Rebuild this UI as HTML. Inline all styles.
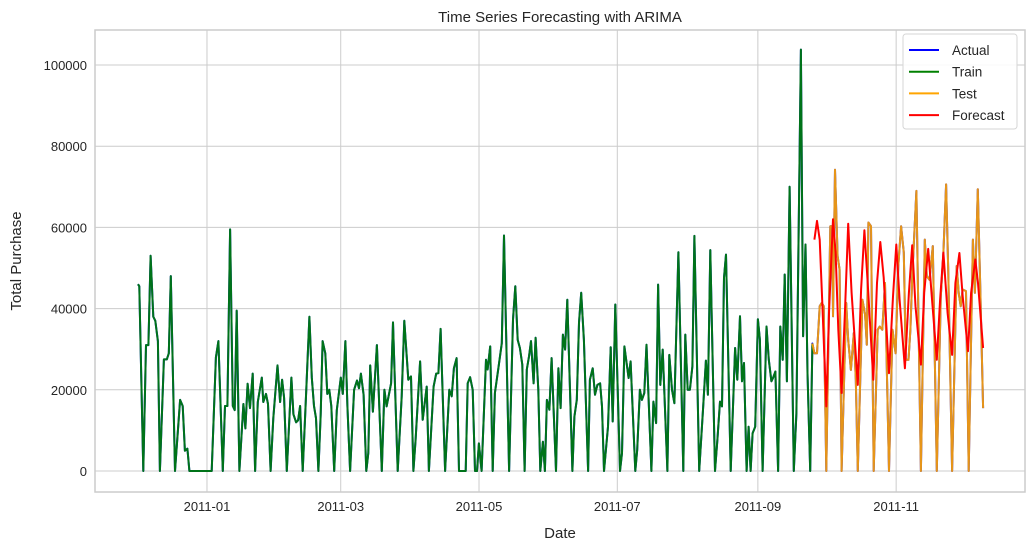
<!DOCTYPE html>
<html><head><meta charset="utf-8"><style>
body{margin:0;background:#fff;}
svg text{font-family:"Liberation Sans",sans-serif;fill:#262626;}
</style></head><body>
<svg id="chart" width="1034" height="550" xmlns="http://www.w3.org/2000/svg">
<rect width="1034" height="550" fill="#fff"/>
<g id="grid"></g><g id="axes"></g><g id="series"></g><g id="legend"></g>
</svg>
<script>
// Approximate day offsets (read on a preliminary scale) and values in thousands
const trainDaysRaw=[0,0.6,2.4,3.6,4.7,5.7,6.9,7.8,9.0,9.9,11.7,13.0,13.9,14.8,16.7,19.0,20.2,21.2,22.3,23.2,33.3,35.2,36.3,38.3,39.3,40.4,41.6,42.8,43.7,44.6,45.8,47.6,48.5,49.5,50.6,51.8,52.9,54.1,55.9,56.6,57.8,58.7,59.9,61.1,63.0,64.2,65.1,66.0,67.2,68.1,69.3,70.2,71.4,72.3,73.2,74.4,75.6,77.4,78.5,79.5,80.4,81.5,82.5,83.4,84.6,85.5,86.4,87.3,88.6,89.8,91.6,92.5,93.7,94.6,95.8,97.6,
98.9,99.8,100.7,101.9,103.1,104.0,104.9,106.1,107.9,110.1,111.3,112.3,114.3,115.2,117.3,119.1,120.3,122.1,123.3,124.4,125.4,127.4,128.6,130.4,131.4,133.5,134.7,135.7,136.7,138.7,140.6,141.7,142.7,143.9,145.0,148.0,148.9,150.0,151.2,152.2,153.1,154.0,155.2,157.2,157.9,159.1,160.2,161.2,162.7,164.3,165.3,167.6,169.4,170.4,171.5,172.5,173.6,174.6,175.6,176.6,177.5,178.7,179.6,180.8,181.7,182.9,183.8,184.7,185.8,186.8,188.8,189.9,190.9,191.9,192.9,193.9,196.2,197.1,198.2,199.2,
200.2,201.4,203.3,204.1,205.4,206.4,207.5,208.7,209.6,210.5,212.3,213.5,214.4,215.6,217.7,218.6,219.7,220.7,221.6,222.5,224.6,225.5,226.7,227.6,228.7,229.7,231.9,232.8,234.0,234.9,235.9,237.0,239.1,240.0,241.2,242.3,244.1,246.3,247.2,248.3,249.3,250.4,251.3,253.5,255.3,256.5,257.4,258.5,260.6,261.7,262.9,263.8,264.7,265.6,267.7,269.7,270.7,271.9,272.8,273.7,274.9,275.8,276.7,277.6,278.8,280.0,280.9,282.1,283.9,284.9,286.1,286.8,287.9,289.1,290.1,291.2,292.1,293.1,294.3,296.2,297.4,299.4,300.4,301.5,302.4,303.6,304.6];
const trainVals=[46,45.5,0,31,31,53,38,37,32,0,27.5,27.5,29,48,0,17.5,16,5,5.5,0,0,28,32,0,16,16,59.5,16,15,39.5,0,16.5,10.5,21.5,15.5,24,0,17,23,17,19,16.5,0,13,26,17,22.5,18,0,10,23,14,12,12.5,16,0,15,38,23,16,13,0,14,32,29,19,20,16,0,15,23,19,32,16,0,20,
22.3,20.4,24,18.8,0,4.4,26,14.6,31,0,20,15.9,21.6,36.6,0,18.4,37,22.5,23.3,0,7.7,27,12.6,20.8,0,20.8,24,24.1,35,0,20,18.4,25.3,27.8,0,0,21.6,23.1,20,0,0,6.8,0,27.4,25,30.7,0,19.2,25,31.5,58,0,37.3,45.5,32.3,30.3,26.2,0,25,28.2,32,21.6,32.8,20,0,7.2,0,17.5,15.1,27.8,0,25.3,15.5,33.6,29.9,42.2,0,13.4,17.5,36.5,
43.9,32.3,0,22.5,25.3,18.8,21.2,21.6,15.9,0,10.9,30.5,12.2,41,0,4.4,30.7,26.6,22.9,27,0,5.2,20,17.5,19.2,31.1,0,17.1,11.8,45.9,21.2,29.9,0,28.6,20,16.7,53.9,0,33.6,20,20,25.8,57.9,0,15.9,27.2,18.8,54.4,0,7.7,17.1,15.9,47.6,53.3,0,30.3,22.5,38.1,22.1,26.6,0,10.9,0,9.3,10.9,37.4,32.3,0,35.6,27.4,22.1,22.9,24.5,0,35.6,27.4,48.4,22.1,70,0,14.2,103.8,33.2,55.8,24.1,0,31.4];
const testDaysRaw=[304.6,305.5,306.7,307.9,308.8,309.7,310.9,312.7,313.6,313.9,314.8,316.0,316.9,317.8,319.9,320.8,322.0,323.3,324.2,325.1,327.2,328.4,329.2,329.9,331.1,332.3,334.1,335.0,336.2,337.4,339.2,340.8,342.2,343.4,344.7,345.9,346.8,348.0,348.9,349.8,351.6,353.6,355.4,356.3,357.5,359.0,360.8,362.6,363.8,365.0,366.0,367.7,369.8,370.7,371.6,372.5,374.0,375.2,377.1,378.0,379.3,380.5,381.7];
const testVals=[31.4,29,29,40.6,41.4,40.6,0,60.3,60.3,38.1,74.2,52.9,49.6,0,41.4,32.3,24.9,34,22.5,0,42.2,38.5,31.1,61.2,60.3,0,34.8,35.6,34.8,46.3,0,34.8,29,50.5,60.3,53.8,27.4,27.4,34.8,48.8,69,0,57,48,47.1,55.4,0,43,53.8,70.6,48.8,0,50.5,43.9,40.6,44.7,44.3,0,57,43.9,69.4,43.9,15.5];
const fcDaysRaw=[305.5,306.7,307.9,309.1,310.9,312.1,313.9,315.1,316.3,317.8,319.3,320.8,322.3,325.1,326.6,328.1,329.6,332.1,333.8,335.3,336.8,339.2,341.0,342.5,344.0,346.4,348.2,349.7,351.2,353.6,355.1,356.9,358.4,360.8,362.3,363.8,365.7,367.7,369.2,371.0,372.5,374.9,376.3,378.2,379.4,381.7];
const fcVals=[57,61.6,57,41.4,15.9,38.9,62,53.8,34.8,19.2,38.9,60.9,43.9,21.2,44.7,59.3,46.3,22.5,46.3,56.4,47.6,24.1,43,55.8,42.2,25.3,43.9,55.6,40.6,26.2,43.9,54.7,43.9,27.4,42.2,53.8,38.9,28.6,46.3,53.7,43,29.5,43.9,52.1,46.3,30.3];
// tick dates as days since 2010-12-01
const xTickDays=[31,90,151,212,274,335];
const xTickLabels=["2011-01","2011-03","2011-05","2011-07","2011-09","2011-11"];
const yTicks=[0,20000,40000,60000,80000,100000];
const yTickLabels=["0","20000","40000","60000","80000","100000"];

// calibrate raw day readings to true calendar days
const cal=d=>0.573+0.9766*d;
const trainDays=trainDaysRaw.map(cal), testDays=testDaysRaw.map(cal), fcDays=fcDaysRaw.map(cal);

const L=95,R=1025,T=30,B=492;
const xs=d=>136.7+d*2.267;
const ys=v=>471-v*4.06/1000;
const NS="http://www.w3.org/2000/svg";
function mk(tag,attrs,parent){const e=document.createElementNS(NS,tag);for(const k in attrs)e.setAttribute(k,attrs[k]);parent.appendChild(e);return e;}
const grid=document.getElementById('grid'),axes=document.getElementById('axes'),series=document.getElementById('series'),legend=document.getElementById('legend');

yTicks.forEach((v,i)=>{
  const g=mk('line',{x1:L,x2:R,y1:ys(v),y2:ys(v),stroke:'#cccccc','stroke-width':1},grid);
  
  
  const t=mk('text',{x:L-8,y:ys(v)+5,'text-anchor':'end','font-size':13},axes);
  t.textContent=yTickLabels[i];
  
  
});
xTickDays.forEach((d,i)=>{
  const g=mk('line',{x1:xs(d),x2:xs(d),y1:T,y2:B,stroke:'#cccccc','stroke-width':1},grid);
  
  
  const t=mk('text',{x:xs(d),y:B+19,'text-anchor':'middle','font-size':13},axes);
  t.textContent=xTickLabels[i];
  
  
});
const frame=mk('rect',{x:L,y:T,width:R-L,height:B-T,fill:'none',stroke:'#cccccc','stroke-width':1.5},axes);


const title=mk('text',{x:(L+R)/2,y:22,'text-anchor':'middle','font-size':15},axes);
title.textContent='Time Series Forecasting with ARIMA';


const xl=mk('text',{x:(L+R)/2,y:538,'text-anchor':'middle','font-size':15},axes);
xl.textContent='Date';


const yl=mk('text',{x:0,y:0,'text-anchor':'middle','font-size':15,transform:'translate(21,261) rotate(-90)'},axes);
yl.textContent='Total Purchase';



function pts(ds,vs){return ds.map((d,i)=>xs(d).toFixed(1)+','+ys(vs[i]*1000).toFixed(1)).join(' ');}
const a1=mk('polyline',{points:pts(trainDays.concat(testDays.slice(1)),trainVals.concat(testVals.slice(1))),fill:'none',stroke:'#0000ff','stroke-width':2,'stroke-linejoin':'round'},series);


const tr=mk('polyline',{points:pts(trainDays,trainVals),fill:'none',stroke:'#008000','stroke-width':2,'stroke-opacity':0.9,'stroke-linejoin':'round'},series);


const te=mk('polyline',{points:pts(testDays,testVals),fill:'none',stroke:'#ffa500','stroke-width':2,'stroke-opacity':0.9,'stroke-linejoin':'round'},series);


const fc=mk('polyline',{points:pts(fcDays,fcVals),fill:'none',stroke:'#ff0000','stroke-width':2,'stroke-linejoin':'round'},series);



const lb=mk('rect',{x:903,y:34,width:114,height:95,rx:3,fill:'#fff','fill-opacity':0.85,stroke:'#d6d6d6'},legend);


const legNames=['Actual','Train','Test','Forecast'];
const legColors=['#0000ff','#008000','#ffa500','#ff0000'];
legNames.forEach((n,i)=>{
  const y=50+i*21.7;
  const l=mk('line',{x1:909,x2:939,y1:y,y2:y,stroke:legColors[i],'stroke-width':2},legend);
  
  
  const t=mk('text',{x:952,y:y+5,'font-size':13.5},legend);
  t.textContent=n;
  
  
});
</script>
</body></html>
